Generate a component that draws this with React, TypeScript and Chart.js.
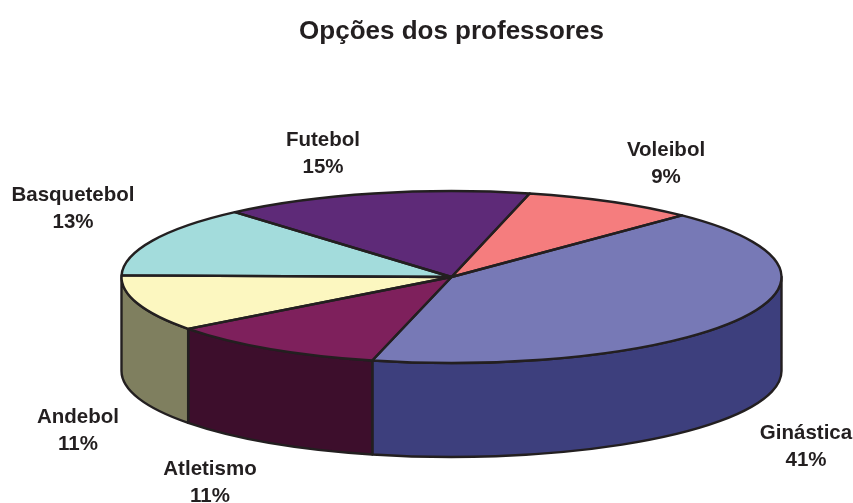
import React, { useEffect, useRef } from "react";
import { Chart, registerables } from "chart.js";

Chart.register(...registerables);

const TITLE = "Opções dos professores";
const categories = ["Ginástica", "Atletismo", "Andebol", "Basquetebol", "Futebol", "Voleibol"];
const shares = [41.55, 10.85, 10.6, 13.3, 15.2, 8.5];
const percentLabels = ["41%", "11%", "11%", "13%", "15%", "9%"];
const topColors = ["#7779b6", "#7e205c", "#fcf7c0", "#a3dcdc", "#5e2a78", "#f57d7e"];
const wallColors = ["#3d3f7d", "#3d0e2c", "#7f7f5f", "#526e6e", "#2f143c", "#7a3e3f"];

// Layout only (not data)
const INK = "#231f20";
const CENTER_X = 451.5;
const CENTER_Y = 277;
const RADIUS = 330;
const RADIUS_Y = 86;
const DEPTH = 94;
const LINE_WIDTH = 2.4;
const LABEL_FONT = "bold 20.5px 'Liberation Sans', Arial, sans-serif";
const labelAnchors = [
  [806, 433],
  [210, 469],
  [78, 417],
  [73, 195],
  [323, 140],
  [666, 150],
];

function arcs(chart: any) {
  return chart.getDatasetMeta(0).data.map((el: any) =>
    el.getProps(["x", "y", "startAngle", "endAngle", "outerRadius"], true)
  );
}

const pie3d = {
  id: "pie3d",
  beforeDatasetsDraw(chart: any) {
    const ctx = chart.ctx;
    const list = arcs(chart);
    ctx.save();
    ctx.lineWidth = LINE_WIDTH;
    ctx.strokeStyle = INK;
    ctx.lineJoin = "round";
    list.forEach((a: any, i: number) => {
      // visible part of the slice's wall: canvas angles in [0, PI], modulo a turn
      for (const shift of [0, Math.PI * 2, -Math.PI * 2]) {
        const s = Math.max(a.startAngle + shift, 0);
        const e = Math.min(a.endAngle + shift, Math.PI);
        if (e <= s) continue;
        ctx.beginPath();
        ctx.ellipse(CENTER_X, CENTER_Y, a.outerRadius, RADIUS_Y, 0, s, e);
        ctx.ellipse(CENTER_X, CENTER_Y + DEPTH, a.outerRadius, RADIUS_Y, 0, e, s, true);
        ctx.closePath();
        ctx.fillStyle = wallColors[i];
        ctx.fill();
        ctx.stroke();
      }
    });
    ctx.restore();
    // squash the library's own pie drawing onto the top face
    const first = list[0];
    ctx.save();
    ctx.translate(CENTER_X, CENTER_Y);
    ctx.scale(1, RADIUS_Y / first.outerRadius);
    ctx.translate(-first.x, -first.y);
  },
  afterDatasetsDraw(chart: any) {
    const ctx = chart.ctx;
    ctx.restore();
    ctx.save();
    ctx.lineWidth = LINE_WIDTH;
    ctx.strokeStyle = INK;
    ctx.lineJoin = "round";
    arcs(chart).forEach((a: any) => {
      ctx.beginPath();
      ctx.moveTo(CENTER_X, CENTER_Y);
      ctx.ellipse(CENTER_X, CENTER_Y, a.outerRadius, RADIUS_Y, 0, a.startAngle, a.endAngle);
      ctx.closePath();
      ctx.stroke();
    });
    ctx.restore();
  },
  afterDraw(chart: any) {
    const ctx = chart.ctx;
    ctx.save();
    ctx.font = LABEL_FONT;
    ctx.fillStyle = INK;
    ctx.textAlign = "center";
    ctx.textBaseline = "middle";
    categories.forEach((name, i) => {
      const [x, y] = labelAnchors[i];
      ctx.fillText(name, x, y);
      ctx.fillText(percentLabels[i], x, y + 27);
    });
    ctx.restore();
  },
};

export default function App() {
  const ref = useRef<HTMLCanvasElement>(null);
  useEffect(() => {
    const chart = new Chart(ref.current as HTMLCanvasElement, {
      type: "pie",
      data: {
        labels: categories,
        datasets: [
          {
            data: shares,
            backgroundColor: topColors,
            borderWidth: 0,
            clip: false,
          } as any,
        ],
      },
      options: {
        animation: false,
        responsive: false,
        rotation: 44.3,
        radius: RADIUS,
        layout: { padding: { left: 50 } },
        events: [],
        plugins: {
          legend: { display: false },
          tooltip: { enabled: false },
          title: {
            display: true,
            text: TITLE,
            color: INK,
            font: { family: "'Liberation Sans', Arial, sans-serif", size: 26, weight: "bold" },
            padding: { top: 16, bottom: 10 },
          },
        },
      } as any,
      plugins: [pie3d],
    });
    return () => chart.destroy();
  }, []);
  return (
    <div style={{ position: "absolute", left: 0, top: 0, width: 853, height: 503 }}>
      <canvas ref={ref} width={853} height={503} style={{ display: "block" }} />
    </div>
  );
}
